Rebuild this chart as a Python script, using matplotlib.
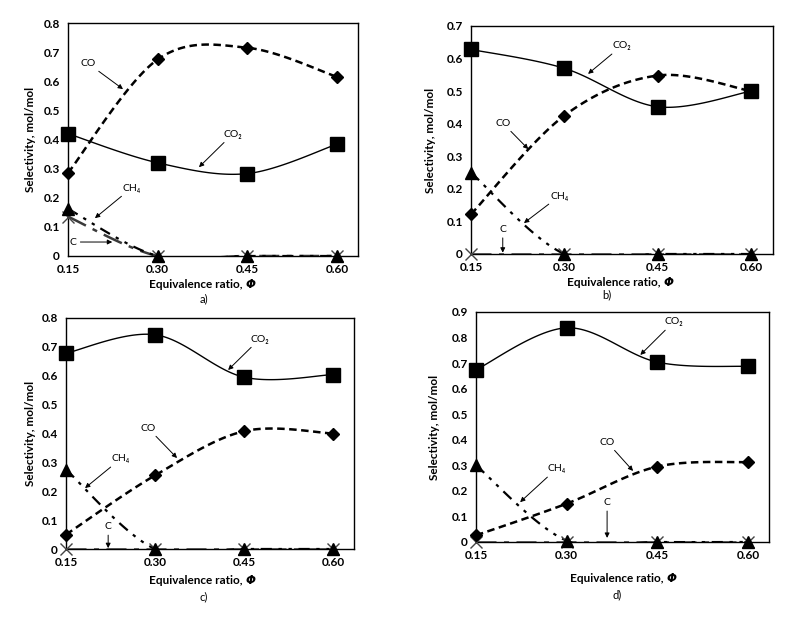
import numpy as np
import matplotlib
matplotlib.use("Agg")
import matplotlib.pyplot as plt
from matplotlib.offsetbox import TextArea, HPacker, AnnotationBbox

plt.rcParams['font.family'] = ['Lato', 'DejaVu Sans']
plt.rcParams['mathtext.fontset'] = 'dejavusans'

# ---------------- data ----------------
phi = [0.15, 0.30, 0.45, 0.60]
phi_labels = ["0.15", "0.30", "0.45", "0.60"]

co_a = [0.285, 0.675, 0.715, 0.615]
co2_a = [0.42, 0.32, 0.283, 0.384]
ch4_a = [0.162, 0.0, 0.0, 0.0]
c_a = [0.135, 0.0, 0.0, 0.0]

co_b = [0.122, 0.425, 0.548, 0.50]
co2_b = [0.628, 0.57, 0.452, 0.50]
ch4_b = [0.25, 0.0, 0.0, 0.0]
c_b = [0.0, 0.0, 0.0, 0.0]

co_c = [0.05, 0.255, 0.408, 0.40]
co2_c = [0.678, 0.742, 0.595, 0.604]
ch4_c = [0.275, 0.0, 0.0, 0.0]
c_c = [0.0, 0.0, 0.0, 0.0]

co_d = [0.026, 0.15, 0.295, 0.313]
co2_d = [0.674, 0.838, 0.704, 0.687]
ch4_d = [0.30, 0.005, 0.0, 0.0]
c_d = [0.0, 0.0, 0.0, 0.0]

ymax = {"a": 0.8, "b": 0.7, "c": 0.8, "d": 0.9}

# ---------------- layout (pixels) ----------------
W, H = 801, 620
panels = {
    # left, right, top, bottom, xlabel (x, dy), caption (x, dy), ylabel dx
    "a": dict(box=(68, 358, 23, 256), xl=(202, 29), cap=(204, 43), yl=38),
    "b": dict(box=(471, 773, 26, 254), xl=(620, 28), cap=(607, 41), yl=41),
    "c": dict(box=(66, 354, 318, 549), xl=(202, 31), cap=(204, 48), yl=36),
    "d": dict(box=(476, 769, 312, 542), xl=(623, 36), cap=(617, 53), yl=41),
}

series = {
    "a": (co_a, co2_a, ch4_a, c_a),
    "b": (co_b, co2_b, ch4_b, c_b),
    "c": (co_c, co2_c, ch4_c, c_c),
    "d": (co_d, co2_d, ch4_d, c_d),
}

# annotation: label, text xy (data), arrow tip xy (data)
notes = {
    "a": [("CO", (0.183, 0.662), (0.242, 0.573)),
          ("CO₂", (0.425, 0.418), (0.369, 0.305)),
          ("CH₄", (0.256, 0.233), (0.195, 0.130)),
          ("C", (0.158, 0.048), (0.224, 0.048))],
    "b": [("CO₂", (0.392, 0.639), (0.338, 0.553)),
          ("CO", (0.201, 0.402), (0.242, 0.322)),
          ("CH₄", (0.292, 0.178), (0.235, 0.095)),
          ("C", (0.201, 0.076), (0.201, 0.004))],
    "c": [("CO₂", (0.476, 0.727), (0.423, 0.620)),
          ("CO", (0.288, 0.419), (0.337, 0.315)),
          ("CH₄", (0.242, 0.312), (0.182, 0.211)),
          ("C", (0.221, 0.078), (0.221, 0.003))],
    "d": [("CO₂", (0.477, 0.861), (0.422, 0.732)),
          ("CO", (0.367, 0.391), (0.410, 0.278)),
          ("CH₄", (0.283, 0.286), (0.223, 0.156)),
          ("C", (0.367, 0.155), (0.367, 0.016))],
}


def smooth(x, y, n=40):
    """Excel-like smoothed line (Catmull-Rom Bezier) through the points."""
    x = np.asarray(x, float)
    y = np.asarray(y, float)
    P = np.column_stack([x, y])
    m = len(P)
    out = []
    for i in range(m - 1):
        p0 = P[i - 1] if i > 0 else P[i]
        p1 = P[i]
        p2 = P[i + 1]
        p3 = P[i + 2] if i + 2 < m else P[i + 1]
        c1 = p1 + (p2 - p0) / 6.0
        c2 = p2 - (p3 - p1) / 6.0
        t = np.linspace(0, 1, n)[:, None]
        seg = ((1 - t) ** 3) * p1 + 3 * ((1 - t) ** 2) * t * c1 + 3 * (1 - t) * t ** 2 * c2 + t ** 3 * p2
        out.append(seg if i == 0 else seg[1:])
    s = np.vstack(out)
    return s[:, 0], s[:, 1]


fig = plt.figure(figsize=(W / 100, H / 100), dpi=100)

for key, cfg in panels.items():
    l, r, t, b = cfg["box"]
    ax = fig.add_axes([l / W, 1 - b / H, (r - l) / W, (b - t) / H])
    co, co2, ch4, c = series[key]

    # C (dark long dash-dot, x markers)
    xs, ys = smooth(phi, c)
    ax.plot(xs, ys, color="#3a3a3a", lw=1.8, ls=(0, (8, 3, 2, 3)), zorder=2)
    ax.plot(phi, c, ls="none", marker="x", ms=8, mew=1.0, color="#444444", zorder=3, clip_on=False)
    # CH4 (dash-dot-dot, triangles)
    xs, ys = smooth(phi, ch4)
    ax.plot(xs, ys, color="black", lw=1.6, ls=(0, (5, 3, 1.5, 3, 1.5, 3)), zorder=2)
    ax.plot(phi, ch4, ls="none", marker="^", ms=9, color="black", zorder=4, clip_on=False)
    # CO (dashed, diamonds)
    xs, ys = smooth(phi, co)
    ax.plot(xs, ys, color="black", lw=1.8, ls=(0, (3, 1.8)), zorder=2)
    ax.plot(phi, co, ls="none", marker="D", ms=6.5, color="black", zorder=4, clip_on=False)
    # CO2 (solid, squares)
    xs, ys = smooth(phi, co2)
    ax.plot(xs, ys, color="black", lw=1.0, zorder=2)
    ax.plot(phi, co2, ls="none", marker="s", ms=9.5, color="black", zorder=4, clip_on=False)

    ax.set_xlim(0.15, 0.635)
    ax.set_ylim(0, ymax[key])
    ax.set_xticks(phi)
    ax.set_xticklabels(phi_labels)
    yt = np.round(np.arange(0, ymax[key] + 1e-9, 0.1), 1)
    ax.set_yticks(yt)
    ax.set_yticklabels(["0"] + [f"{v:.1f}" for v in yt[1:]])
    ax.tick_params(length=0, labelsize=8.5, pad=6)
    for lab in ax.get_xticklabels() + ax.get_yticklabels():
        lab.set_fontweight("bold")
    for sp in ax.spines.values():
        sp.set_color("black")
        sp.set_linewidth(1.0)

    ah = b - t
    aw = r - l
    xlx, xldy = cfg["xl"]
    t1 = TextArea("Equivalence ratio, ", textprops=dict(fontsize=8.5, fontweight="bold"))
    t2 = TextArea("Φ", textprops=dict(fontsize=8.5, fontweight="bold", fontstyle="italic",
                                      family="DejaVu Sans"))
    pack = HPacker(children=[t1, t2], pad=0, sep=0, align="baseline")
    ab = AnnotationBbox(pack, ((xlx - l) / aw, -xldy / ah), xycoords="axes fraction",
                        box_alignment=(0.5, 0.5), frameon=False, annotation_clip=False)
    ax.add_artist(ab)
    cx, cdy = cfg["cap"]
    ax.text((cx - l) / aw, -cdy / ah, f"{key})", transform=ax.transAxes,
            ha="center", va="center", fontsize=8)
    ax.text(-cfg["yl"] / aw, 0.5, "Selectivity, mol/mol", transform=ax.transAxes,
            rotation=90, ha="center", va="center", fontsize=8.5, fontweight="bold")

    for lab, txy, axy in notes[key]:
        ax.annotate(lab, xy=axy, xytext=txy, ha="center", va="center", fontsize=7.5,
                    arrowprops=dict(arrowstyle="-|>", color="black", lw=0.7,
                                    mutation_scale=7, shrinkA=1, shrinkB=0),
                    zorder=6)

fig.savefig("out.png", dpi=100)
